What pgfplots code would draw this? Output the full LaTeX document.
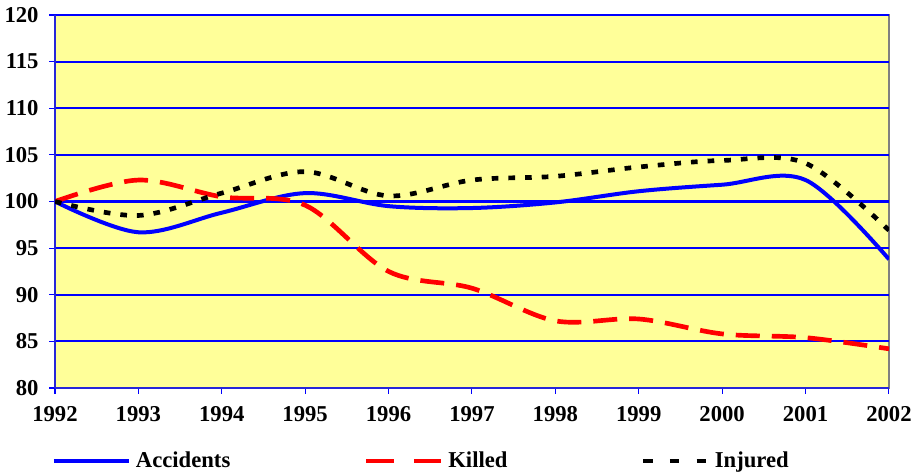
\documentclass[border=0pt]{standalone}
\usepackage{pgfplots}
\pgfplotsset{compat=1.18}
\usepackage{fontspec}
\setmainfont{Liberation Serif}
\definecolor{bgyellow}{HTML}{FFFF99}
\definecolor{lineblue}{HTML}{0000FF}
\definecolor{linered}{HTML}{FF0000}
\begin{document}
\fontsize{17pt}{20pt}\selectfont\bfseries
\begin{tikzpicture}
\begin{axis}[
  scale only axis,
  width=625.5pt, height=279.75pt,
  xmin=1992, xmax=2002, ymin=80, ymax=120,
  xtick={1992,...,2002}, ytick={80,85,...,120},
  /pgf/number format/assume math mode=true,
  /pgf/number format/1000 sep={},
  ticklabel style={font=\fontsize{17pt}{20pt}\selectfont\bfseries},
  xticklabel style={yshift=-3.5pt},
  yticklabel style={xshift=-2pt},
  axis background/.style={fill=bgyellow, draw=gray, line width=1pt},
  axis lines*=left,
  axis line style={lineblue!70!gray, line width=1pt},
  tick align=outside,
  major tick length=4.5pt,
  tick style={lineblue, line width=0.8pt},
  ymajorgrids,
  major grid style={draw=lineblue, line width=1.6pt},
  xtick pos=bottom, ytick pos=left,
  clip=true,
  legend columns=3,
  legend style={at={(0,-0.196)}, xshift=-2.5pt, anchor=west, draw=none, fill=none,
    inner sep=0pt, font=\fontsize{17pt}{20pt}\selectfont\bfseries,
    nodes={inner sep=4pt},
    /tikz/every even column/.append style={column sep=96pt}},
  legend cell align=left,
]
\addplot[lineblue, line width=3pt, smooth, tension=0.55,
  legend image code/.code={\draw[lineblue, line width=3pt] (0pt,0pt) -- (56pt,0pt);}]
 coordinates {(1992,100) (1993,96.7) (1994,98.8) (1995,100.9) (1996,99.5) (1997,99.3) (1998,99.9) (1999,101.1) (2000,101.8) (2001,102.3) (2002,93.8)};
\addlegendentry{Accidents}
\addplot[linered, line width=3.5pt, smooth, tension=0.55, dash pattern=on 18pt off 9pt,
  legend image code/.code={\draw[linered, line width=3.5pt, dash pattern=on 21pt off 15pt] (0pt,0pt) -- (56pt,0pt);}]
 coordinates {(1992,100) (1993,102.3) (1994,100.5) (1995,99.6) (1996,92.5) (1997,90.7) (1998,87.2) (1999,87.4) (2000,85.8) (2001,85.4) (2002,84.2)};
\addlegendentry{Killed}
\addplot[black, line width=3.5pt, smooth, tension=0.55, dash pattern=on 5pt off 7.5pt,
  legend image code/.code={\draw[black, line width=3.5pt, dash pattern=on 7pt off 13pt] (0pt,0pt) -- (48pt,0pt);}]
 coordinates {(1992,100) (1993,98.5) (1994,100.9) (1995,103.2) (1996,100.6) (1997,102.3) (1998,102.7) (1999,103.7) (2000,104.4) (2001,104.1) (2002,96.9)};
\addlegendentry{Injured}
\end{axis}
\pgfresetboundingbox
\path (current axis.south west) ++(-41.25pt,-63.75pt) coordinate (bl);
\path (current axis.north east) ++(18pt,11.25pt) coordinate (tr);
\useasboundingbox (bl) rectangle (tr);
\end{tikzpicture}
\end{document}
